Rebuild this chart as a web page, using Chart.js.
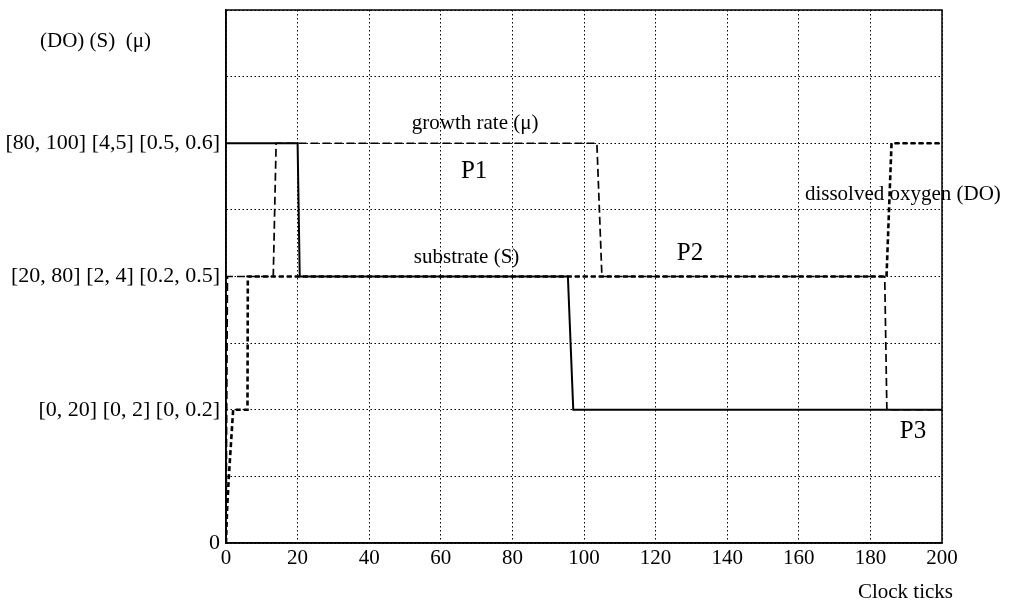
<!DOCTYPE html>
<html>
<head>
<meta charset="utf-8">
<script src="https://cdn.jsdelivr.net/npm/chart.js@4.4.1/dist/chart.umd.min.js"></script>
<style>
  html, body { margin: 0; padding: 0; background: #fff; }
  #wrap { width: 1009px; height: 602px; }
</style>
</head>
<body>
<div id="wrap"><canvas id="chart"></canvas></div>
<script>
// Level values (0..8 grid, labelled levels at 2, 4, 6)
const substrateX = [0, 20, 20.6, 95.5, 97, 200];
const substrateY = [6, 6, 4, 4, 2, 2];

const growthX = [0, 0.4, 13.2, 14, 103.6, 105, 184, 184.6, 200];
const growthY = [0, 4, 4, 6, 6, 4, 4, 2, 2];

const oxygenX = [0, 0.3, 0.8, 2, 6, 6.1, 184.5, 185.9, 200];
const oxygenY = [0, 0.5, 1, 2, 2, 4, 4, 6, 6];

// Y tick labels (ranges for DO, S, mu)
const yTickLabels = {
  0: '0',
  2: '[0, 20] [0, 2] [0, 0.2]',
  4: '[20, 80] [2, 4] [0.2, 0.5]',
  6: '[80, 100] [4,5] [0.5, 0.6]'
};

// Text annotations in data coordinates
const notes = [
  { text: 'growth rate (\u03bc)', x: 69.6, y: 6.29, size: 21, align: 'center' },
  { text: 'P1', x: 69.3, y: 5.57, size: 25, align: 'center' },
  { text: 'substrate (S)', x: 67.2, y: 4.28, size: 21, align: 'center' },
  { text: 'P2', x: 129.6, y: 4.35, size: 25, align: 'center' },
  { text: 'dissolved oxygen (DO)', x: 161.7, y: 5.23, size: 21, align: 'left' },
  { text: 'P3', x: 191.9, y: 1.67, size: 25, align: 'center' }
];

const FONT = '"Liberation Serif", "Times New Roman", serif';

function toPoints(xs, ys) {
  return xs.map((x, i) => ({ x: x, y: ys[i] }));
}

const textPlugin = {
  id: 'texts',
  afterDraw(chart) {
    const { ctx, chartArea, scales } = chart;
    ctx.save();
    // frame around plot
    ctx.strokeStyle = '#000';
    ctx.lineWidth = 1.5;
    ctx.setLineDash([]);
    ctx.strokeRect(chartArea.left, chartArea.top, chartArea.right - chartArea.left, chartArea.bottom - chartArea.top);

    ctx.fillStyle = '#000';
    ctx.textBaseline = 'middle';
    notes.forEach(n => {
      ctx.font = n.size + 'px ' + FONT;
      ctx.textAlign = n.align;
      ctx.fillText(n.text, scales.x.getPixelForValue(n.x), scales.y.getPixelForValue(n.y));
    });

    // axis captions
    ctx.font = '21px ' + FONT;
    ctx.textAlign = 'left';
    ctx.fillText('(DO) (S)  (\u03bc)', 40, scales.y.getPixelForValue(7.52));
    ctx.textAlign = 'right';
    ctx.fillText('Clock ticks', chartArea.right + 11, chartArea.bottom + 49);
    ctx.restore();
  }
};

new Chart(document.getElementById('chart'), {
  type: 'line',
  data: {
    datasets: [
      {
        label: 'substrate (S)',
        data: toPoints(substrateX, substrateY),
        borderColor: '#000',
        borderWidth: 2,
        pointRadius: 0,
        tension: 0
      },
      {
        label: 'growth rate',
        data: toPoints(growthX, growthY),
        borderColor: '#000',
        borderWidth: 1.7,
        borderDash: [8, 4],
        pointRadius: 0,
        tension: 0
      },
      {
        label: 'dissolved oxygen (DO)',
        data: toPoints(oxygenX, oxygenY),
        borderColor: '#000',
        borderWidth: 2.6,
        borderDash: [5, 3],
        pointRadius: 0,
        tension: 0
      }
    ]
  },
  options: {
    responsive: true,
    maintainAspectRatio: false,
    animation: false,
    layout: { padding: { left: 0, right: 67, top: 10, bottom: 0 } },
    plugins: {
      legend: { display: false },
      tooltip: { enabled: false }
    },
    scales: {
      x: {
        type: 'linear',
        min: 0,
        max: 200,
        ticks: {
          stepSize: 20,
          color: '#000',
          padding: 3,
          font: { family: FONT, size: 21 }
        },
        grid: { color: '#000', lineWidth: 1, drawTicks: false },
        border: { display: true, color: '#000', width: 1.5, dash: [1.5, 2.5] },
        afterFit(scale) { scale.height = 59; }
      },
      y: {
        min: 0,
        max: 8,
        ticks: {
          stepSize: 1,
          color: '#000',
          padding: 6,
          font: { family: FONT, size: 22 },
          callback: v => yTickLabels[v] || ''
        },
        grid: { color: '#000', lineWidth: 1, drawTicks: false },
        border: { display: true, color: '#000', width: 1.5, dash: [1.5, 2.5] },
        afterFit(scale) {
          scale.width = 226;
          scale.paddingTop = 0;
          scale.paddingBottom = 0;
        }
      }
    }
  },
  plugins: [textPlugin]
});
</script>
</body>
</html>
